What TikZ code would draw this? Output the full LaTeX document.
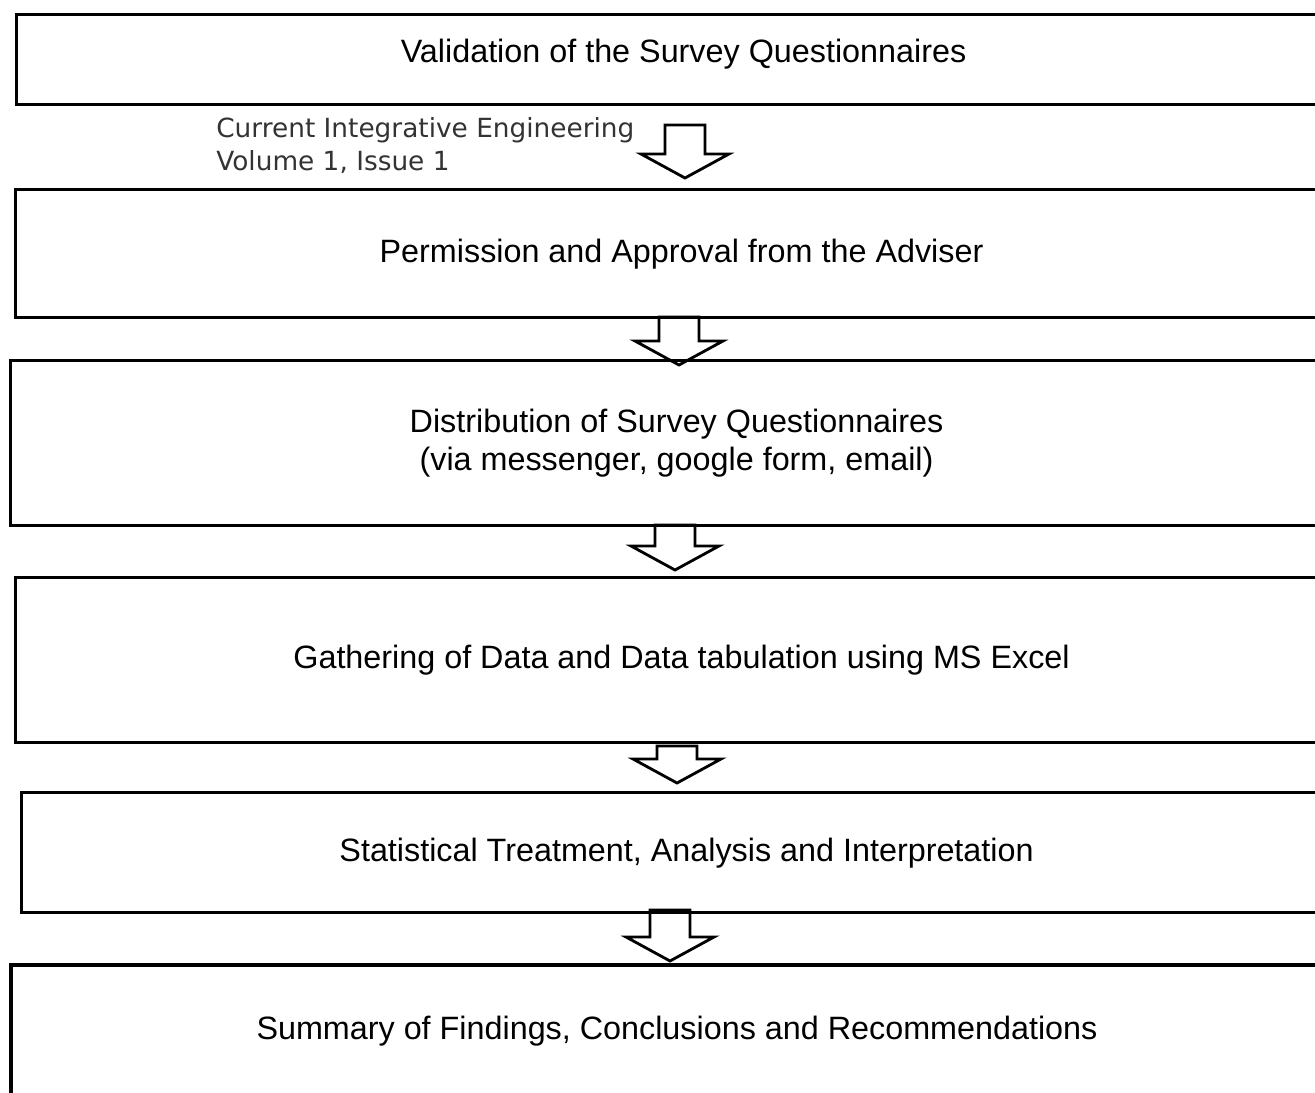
\documentclass[tikz,border=0pt]{standalone}
\usepackage{fontspec}
\setmainfont{Liberation Sans}
\newfontfamily\headfont{DejaVu Sans}
\usetikzlibrary{calc}
\definecolor{headgray}{RGB}{51,51,51}
% hollow block arrow from coordinate #1 (top of shaft) to coordinate #2 (tip)
\newcommand{\blockdown}[2]{%
  \draw[arrow line] ($(#1)+(-20,0)$) -- ($(#1)+(20,0)$) -- ($(#2)+(20,-24)$) -- ($(#2)+(44,-24)$)
    -- (#2) -- ($(#2)+(-44,-24)$) -- ($(#2)+(-20,-24)$) -- cycle;}

\begin{document}
\begin{tikzpicture}[x=0.02cm,y=-0.02cm,
    box node/.style={draw,line width=1.9pt,anchor=north west,inner sep=0pt,align=center,font=\fontsize{18.4}{21.6}\selectfont},
    head node/.style={anchor=base west,inner sep=0pt,text=headgray,font=\headfont\fontsize{15}{18}\selectfont},
    arrow line/.style={line width=1.6pt,line join=miter}]
    \useasboundingbox (0,0) rectangle (1315,1092);
    \clip (0,0) rectangle (1315,1092);

    \node[box node,minimum width=26.68cm,minimum height=1.8cm,text depth=0.34cm] (1) at (15,13) {Validation of the Survey Questionnaires};
    \node[box node,minimum width=26.64cm,minimum height=2.56cm] (2) at (14,188) {Permission and Approval from the Adviser};
    \node[box node,minimum width=26.64cm,minimum height=3.3cm] (3) at (9,359) {Distribution of Survey Questionnaires\\(via messenger, google form, email)};
    \node[box node,minimum width=26.64cm,minimum height=3.3cm] (4) at (14,576) {Gathering of Data and Data tabulation using MS Excel};
    \node[box node,minimum width=26.6cm,minimum height=2.4cm] (5) at (20,791) {Statistical Treatment, Analysis and Interpretation};
    \node[box node,minimum width=26.64cm,minimum height=2.64cm,line width=2.4pt] (6) at (9,963) {Summary of Findings, Conclusions and Recommendations};

    \node[head node] (h1) at (216,137) {Current Integrative Engineering};
    \node[head node] (h2) at (216,170) {Volume 1, Issue 1};

    \coordinate (a1s) at (685,125); \coordinate (a1e) at (685,178);
    \coordinate (a2s) at (679,317); \coordinate (a2e) at (679,365);
    \coordinate (a3s) at (675,525); \coordinate (a3e) at (675,570);
    \coordinate (a4s) at (677,746); \coordinate (a4e) at (677,783);
    \coordinate (a5s) at (670,910); \coordinate (a5e) at (670,961);

    \blockdown{a1s}{a1e}
    \blockdown{a2s}{a2e}
    \blockdown{a3s}{a3e}
    \blockdown{a4s}{a4e}
    \blockdown{a5s}{a5e}
\end{tikzpicture}
\end{document}
